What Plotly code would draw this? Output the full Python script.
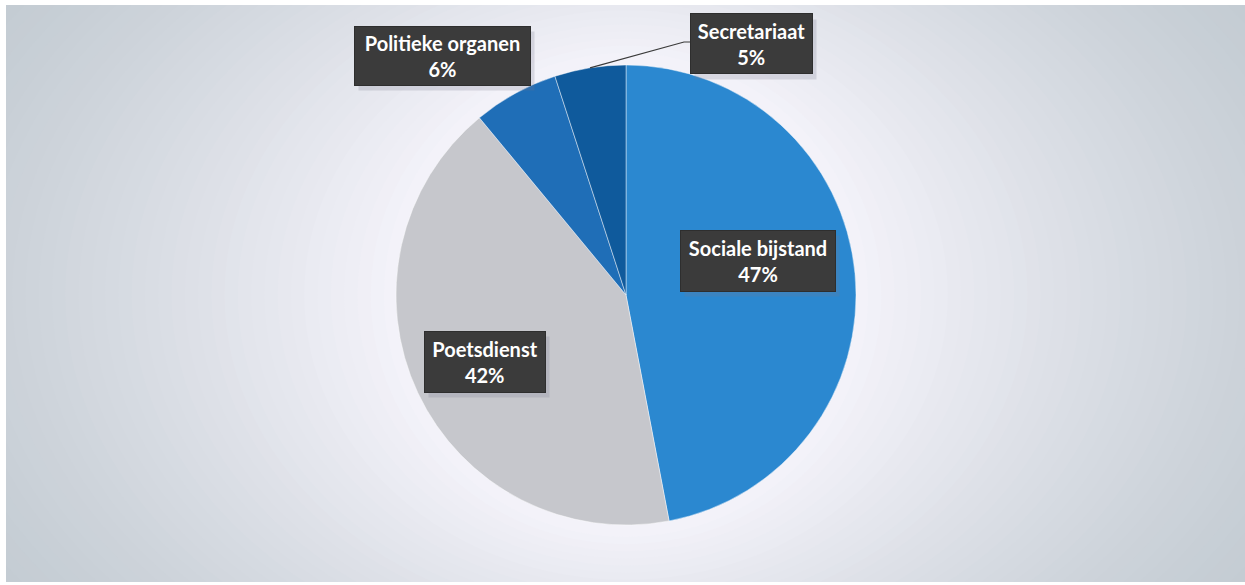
import math
import plotly.graph_objects as go

# Slices in drawing order (clockwise from 12 o'clock)
categories = ["Sociale bijstand", "Poetsdienst", "Politieke organen", "Secretariaat"]
shares = [47, 42, 6, 5]
slice_colors = ["#2b88d0", "#c6c7cc", "#1f6eb7", "#0f5a9c"]

W, H = 1245, 585
CX, CY, R = 626, 295, 230  # pie centre / radius in pixels


def px(x):
    return x / W


def py(y):
    return 1 - y / H


fig = go.Figure()

fig.add_trace(go.Pie(
    labels=categories,
    values=shares,
    sort=False,
    direction="clockwise",
    rotation=0,
    marker=dict(colors=slice_colors, line=dict(color="rgba(255,255,255,0.55)", width=0.8)),
    textinfo="none",
    hoverinfo="label+percent",
    showlegend=False,
    domain=dict(x=[px(CX - R), px(CX + R)], y=[py(CY + R), py(CY - R)]),
))

# Soft radial glow behind the pie: stacked ellipses from grey to near white
shapes = []
outer = (196, 204, 211)
inner = (243, 242, 249)
steps = 40
for i in range(steps):
    t = i / (steps - 1)
    k = t ** 1.3
    c = tuple(round(outer[j] + (inner[j] - outer[j]) * k) for j in range(3))
    rx = 760 - (760 - (R + 12)) * t
    ry = 520 - (520 - (R + 12)) * t
    shapes.append(dict(
        type="circle", xref="paper", yref="paper", layer="below",
        x0=px(CX - rx), x1=px(CX + rx), y0=py(CY + ry), y1=py(CY - ry),
        fillcolor="rgb(%d,%d,%d)" % c, line=dict(width=0),
    ))

# White margins around the panel
for x0, y0, x1, y1 in [(0, 0, W, 5), (0, 0, 6, H), (0, 582, W, H)]:
    shapes.append(dict(
        type="rect", xref="paper", yref="paper", layer="below",
        x0=px(x0), x1=px(x1), y0=py(y1), y1=py(y0),
        fillcolor="white", line=dict(width=0),
    ))

# Leader line from the Secretariaat slice to its label
cum = 0
mids = []
for v in shares:
    mids.append((cum + v / 2) / sum(shares) * 2 * math.pi)
    cum += v
a = mids[3]
lx, ly = CX + R * math.sin(a), CY - R * math.cos(a)
shapes.append(dict(
    type="path", xref="paper", yref="paper", layer="above",
    path="M %f,%f L %f,%f L %f,%f" % (px(lx), py(ly), px(684), py(42), px(691), py(42)),
    line=dict(color="#3a3a3a", width=1.2),
))

# Label boxes: (centre x, centre y, width, height)
boxes = {
    "Sociale bijstand": (758, 261, 154, 60),
    "Poetsdienst": (485, 362, 120, 60),
    "Politieke organen": (442, 56, 175, 58),
    "Secretariaat": (751, 44, 121, 59),
}

annotations = []
for name, val in zip(categories, shares):
    bx, by, bw, bh = boxes[name]
    # faint drop shadow
    annotations.append(dict(
        x=px(bx + 4), y=py(by + 5), xref="paper", yref="paper",
        xanchor="center", yanchor="middle",
        text="", showarrow=False, width=bw, height=bh, borderpad=0,
        bgcolor="rgba(120,120,140,0.22)",
    ))
    annotations.append(dict(
        x=px(bx), y=py(by), xref="paper", yref="paper",
        xanchor="center", yanchor="middle",
        text="<b>%s<br>%d%%</b>" % (name, val),
        showarrow=False, width=bw, height=bh, borderpad=0,
        bgcolor="#3b3b3b", bordercolor="#2e2e2e", borderwidth=1,
        align="center", valign="middle",
        font=dict(family="Lato, Open Sans, sans-serif", size=20, color="white"),
    ))

fig.update_layout(
    width=W, height=H,
    margin=dict(l=0, r=0, t=0, b=0),
    paper_bgcolor="rgb(196,204,211)",
    plot_bgcolor="rgba(0,0,0,0)",
    shapes=shapes,
    annotations=annotations,
)

fig.write_html("out.html")
